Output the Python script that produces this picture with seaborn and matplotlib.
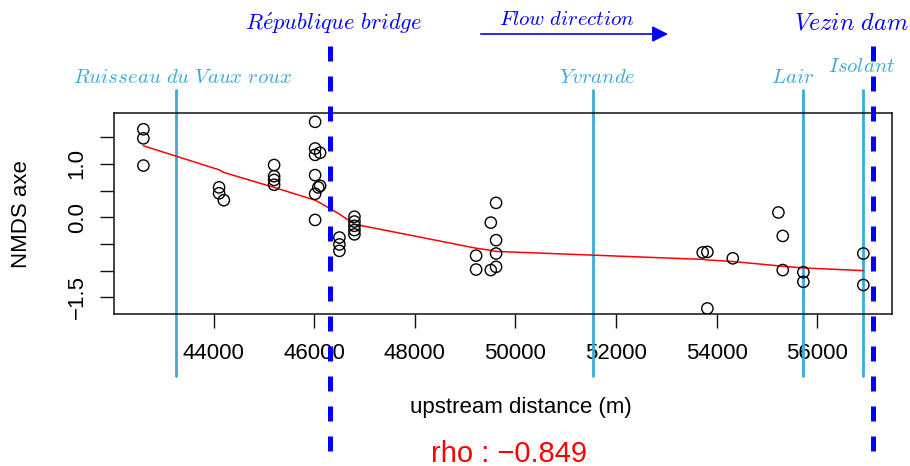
import numpy as np
import pandas as pd
import matplotlib
matplotlib.use("Agg")
import matplotlib.pyplot as plt
import matplotlib.transforms as mtransforms
import seaborn as sns

# samples: upstream distance (m) and NMDS score
dist = [42604, 42604, 42604,
        44109, 44109, 44203,
        45203, 45203, 45203, 45203,
        46018, 46018, 46018, 46018, 46018, 46018, 46117, 46117, 46080,
        46501, 46501, 46501,
        46800, 46800, 46800, 46800, 46800,
        49219, 49219, 49511, 49511, 49616, 49616, 49616, 49616,
        53725, 53817, 53817, 54322, 55229, 55316, 55316,
        55726, 55726, 56918, 56918]
nmds = [1.65, 1.48, 0.97,
        0.56, 0.45, 0.32,
        0.98, 0.77, 0.70, 0.61,
        1.79, 1.29, 1.17, 0.79, 0.44, -0.05, 1.21, 0.59, 0.56,
        -0.38, -0.51, -0.63,
        0.01, -0.08, -0.16, -0.24, -0.32,
        -0.72, -0.98, -0.99, -0.10, -0.93, -0.68, -0.43, 0.27,
        -0.66, -0.65, -1.71, -0.77, 0.09, -0.35, -0.99,
        -1.03, -1.21, -0.68, -1.27]

# lowess trend
trend_x = [42604, 44109, 44203, 45203, 46018, 46117, 46501, 46800, 49219,
           49511, 49616, 53725, 53817, 54322, 55229, 55316, 55726, 56918]
trend_y = [1.34, 0.89, 0.84, 0.56, 0.32, 0.27, 0.06, -0.13, -0.58,
           -0.62, -0.64, -0.79, -0.80, -0.83, -0.91, -0.92, -0.95, -1.00]

# tributaries and structures along the river
tribs = ["Ruisseau du Vaux roux", "Yvrande", "Lair", "Isolant"]
trib_x = [43252, 51539, 55714, 56903]
trib_label_x = [43394, 51624, 55521, 56893]
trib_label_y = [0.822, 0.822, 0.822, 0.846]

dams = ["République bridge", "Vezin dam"]
dam_x = [46308, 57101]
dam_label_x = [46386, 56674]
dam_label_size = [16.2, 17.5]

rho = -0.849

df = pd.DataFrame({"dist": dist, "nmds": nmds})
trend = pd.DataFrame({"dist": trend_x, "nmds": trend_y})

sns.set_style("ticks")
plt.rcParams["font.family"] = ["Liberation Sans", "DejaVu Sans"]
plt.rcParams["mathtext.fontset"] = "cm"
plt.rcParams["axes.unicode_minus"] = True
plt.rcParams["text.color"] = "black"
plt.rcParams["axes.labelcolor"] = "black"
plt.rcParams["xtick.color"] = "black"
plt.rcParams["ytick.color"] = "black"

light = "#3aaadb"
dark = "#0000ff"


def it(s):
    # italic latex-like label
    s = s.replace(" ", r"\ ").replace("é", r"\acute{e}")
    return r"$\mathit{" + s + "}$"


fig = plt.figure(figsize=(9.1, 4.66), dpi=100)
ax = fig.add_axes([0.1253, 0.3255, 0.8552, 0.4314])

sns.scatterplot(data=df, x="dist", y="nmds", ax=ax, marker="o", s=66,
                facecolor="none", edgecolor="black", linewidth=1.0, zorder=3)
sns.lineplot(data=trend, x="dist", y="nmds", ax=ax, color="red", lw=1.1,
             estimator=None, sort=False, zorder=2)

ax.set_xlim(42020, 57493)
ax.set_ylim(-1.82, 1.95)

ax.set_xticks(np.arange(44000, 56001, 2000))
ax.set_xticklabels([str(v) for v in range(44000, 56001, 2000)])
yt = [-1.5, -1.0, -0.5, 0.0, 0.5, 1.0, 1.5]
ax.set_yticks(yt)
ax.set_yticklabels(["\u22121.5", "", "", "0.0", "", "1.0", ""],
                   rotation=90, va="center")
ax.tick_params(axis="both", length=10, width=1.0, labelsize=16,
               color="#111111", labelcolor="black")
ax.tick_params(axis="x", pad=11)
ax.tick_params(axis="y", pad=9)

for sp in ax.spines.values():
    sp.set_visible(True)
    sp.set_linewidth(1.1)
    sp.set_color("#111111")

ax.set_xlabel("upstream distance (m)", fontsize=16)
ax.xaxis.set_label_coords(0.523, -0.41)
ax.set_ylabel("NMDS axe", fontsize=16)
ax.yaxis.set_label_coords(-0.105, 0.5)

trans = mtransforms.blended_transform_factory(ax.transData, fig.transFigure)

# tributaries
for name, x, lx, ly in zip(tribs, trib_x, trib_label_x, trib_label_y):
    ax.plot([x, x], [0.807, 0.193], transform=trans, color=light, lw=2.0,
            clip_on=False, zorder=1)
    fig.text(lx, ly, it(name), transform=trans, color=light, fontsize=15,
             ha="center", va="baseline")

# structures
for name, x, lx, fs in zip(dams, dam_x, dam_label_x, dam_label_size):
    ax.plot([x, x], [0.901, 0.0], transform=trans, color=dark, lw=3.6,
            ls=(0, (3.0, 3.0)), clip_on=False, zorder=4)
    fig.text(lx, 0.936, it(name), transform=trans, color=dark, fontsize=fs,
             ha="center", va="baseline")

# flow direction arrow
fig.text(51028, 0.946, it("Flow direction"), transform=trans, color=dark,
         fontsize=15, ha="center", va="baseline")
ax.annotate("", xy=(53036, 0.927), xytext=(49312, 0.927), xycoords=trans,
            textcoords=trans,
            arrowprops=dict(arrowstyle="-|>", color=dark, lw=1.2,
                            mutation_scale=24, shrinkA=0, shrinkB=0))

fig.text(0.559, 0.009, "rho : \u2212" + f"{abs(rho):.3f}",
         color="red", fontsize=21, ha="center", va="baseline")

fig.savefig("out.png", dpi=100)
